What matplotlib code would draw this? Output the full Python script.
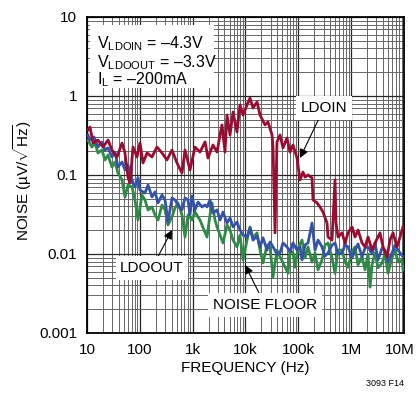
import matplotlib

matplotlib.use("Agg")
import matplotlib.pyplot as plt
from matplotlib.patches import Rectangle
from matplotlib.ticker import FixedLocator, LogLocator, NullFormatter
from matplotlib.transforms import ScaledTranslation

# LDOIN output noise (red)
ldoin_freq = [
    10.4, 11.4, 13, 16.1, 20.1, 25, 29.7, 37, 46, 52.4, 59.7, 65.2, 74.3, 88.4, 100.7,
    115, 137, 170, 211, 263, 327, 406, 505, 628, 716, 891, 1107, 1377, 1714, 1950,
    2427, 2891, 3296, 3592, 4093, 4467, 5093, 5808, 6905, 7870, 8975, 10690, 12170,
    13870, 16520, 18840, 23400, 26670, 31770, 33190, 36220, 39470, 44980, 51290,
    61090, 69660, 79300, 94400, 107600, 122700, 133900, 152500, 181600, 189700,
    225900, 257000, 293000, 349000, 364700, 434500, 494600, 516700, 563600, 671400,
    765600, 872900, 1038000, 1183000, 1349000, 1605000, 1829000, 2086000, 2483000,
    2831000, 3516000, 4009000, 4773000, 5433000, 6194000, 7380000, 8410000, 9570000,
]
ldoin_noise = [
    0.371, 0.405, 0.254, 0.277, 0.226, 0.277, 0.207, 0.169, 0.254, 0.19, 0.094, 0.079,
    0.226, 0.169, 0.254, 0.142, 0.19, 0.169, 0.226, 0.19, 0.155, 0.207, 0.142, 0.106,
    0.207, 0.116, 0.226, 0.195, 0.262, 0.164, 0.24, 0.195, 0.321, 0.43, 0.195, 0.574,
    0.321, 0.627, 0.35, 0.77, 0.574, 0.77, 0.943, 0.705, 0.84, 0.574, 0.43, 0.469,
    0.321, 0.226, 0.0185, 0.262, 0.321, 0.22, 0.294, 0.195, 0.24, 0.164, 0.0865,
    0.109, 0.094, 0.1, 0.092, 0.0483, 0.0443, 0.0394, 0.034, 0.0247, 0.0164, 0.015,
    0.0865, 0.0247, 0.0164, 0.0185, 0.0138, 0.0185, 0.022, 0.0164, 0.0201, 0.0138,
    0.0123, 0.0164, 0.0112, 0.0138, 0.0185, 0.0123, 0.0092, 0.015, 0.0185, 0.0123,
    0.0164, 0.022,
]

# LDOOUT output noise (blue)
ldoout_freq = [
    10.4, 11.4, 13.6, 16.1, 19.2, 21.9, 25, 29.7, 33.9, 38.6, 46, 52.4, 59.7, 71, 81,
    92.3, 100.7, 125, 143, 170, 194, 221, 263, 300, 341, 406, 463, 528, 628, 716, 816,
    891, 971, 1107, 1262, 1503, 1714, 1868, 2128, 2427, 2891, 3296, 3750, 4467, 5093,
    5808, 6905, 7870, 8975, 10690, 12170, 13870, 16520, 18840, 21480, 25530, 29090,
    33190, 39470, 44980, 51290, 61090, 69660, 79300, 94400, 107600, 117500, 133900,
    152500, 181600, 207000, 236000, 280500, 320000, 364700, 434500, 494600, 563600,
    671400, 765600, 872900, 1038000, 1183000, 1349000, 1605000, 1829000, 2086000,
    2483000, 2831000, 3223000, 3840000, 4373000, 4980000, 5930000, 6760000, 7710000,
    9570000,
]
ldoout_noise = [
    0.321, 0.277, 0.303, 0.226, 0.262, 0.207, 0.22, 0.169, 0.195, 0.126, 0.146, 0.116,
    0.134, 0.0865, 0.0705, 0.092, 0.0646, 0.0592, 0.0746, 0.0527, 0.061, 0.0443,
    0.0558, 0.0483, 0.0254, 0.0512, 0.0483, 0.0417, 0.0361, 0.0512, 0.0483, 0.0312,
    0.0542, 0.0361, 0.0455, 0.0394, 0.0417, 0.0394, 0.0483, 0.033, 0.0361, 0.0269,
    0.034, 0.0247, 0.0286, 0.022, 0.0254, 0.0201, 0.0174, 0.0164, 0.0213, 0.015,
    0.0169, 0.0123, 0.016, 0.0112, 0.0142, 0.0123, 0.01, 0.0103, 0.0138, 0.0123,
    0.0106, 0.0138, 0.0112, 0.0123, 0.0084, 0.013, 0.0138, 0.0247, 0.0112, 0.015,
    0.0123, 0.0094, 0.0103, 0.013, 0.0138, 0.01, 0.0103, 0.013, 0.0123, 0.0089,
    0.0112, 0.0134, 0.0092, 0.0119, 0.0123, 0.01, 0.0138, 0.0084, 0.0119, 0.0112,
    0.0079, 0.0103, 0.013, 0.0112, 0.0092,
]

# measurement noise floor (green)
floor_freq = [
    10.4, 12.4, 14.2, 16.1, 19.2, 21.9, 25, 29.7, 33.9, 38.6, 46, 52.4, 59.7, 71, 81,
    92.3, 110, 125, 143, 170, 194, 221, 263, 300, 341, 406, 463, 528, 628, 716, 816,
    971, 1107, 1262, 1377, 1640, 1868, 2128, 2321, 2649, 2891, 3296, 3750, 4467, 5093,
    5808, 6905, 7870, 8975, 10690, 12170, 13870, 16520, 18840, 21480, 25530, 29090,
    33190, 39470, 44980, 53580, 63800, 69660, 79300, 86500, 98600, 117500, 133900,
    152500, 181600, 207000, 236000, 280500, 320000, 364700, 434500, 494600, 563600,
    671400, 765600, 872900, 1038000, 1183000, 1349000, 1605000, 1829000, 2086000,
    2275000, 2483000, 2831000, 3223000, 3840000, 4373000, 4980000, 5930000, 6760000,
    7710000, 9170000, 9570000,
]
floor_noise = [
    0.277, 0.226, 0.254, 0.19, 0.207, 0.155, 0.179, 0.126, 0.146, 0.106, 0.0865,
    0.0527, 0.0746, 0.0705, 0.0483, 0.0269, 0.0558, 0.0483, 0.0361, 0.0394, 0.0312,
    0.0269, 0.0417, 0.0361, 0.0233, 0.0294, 0.0382, 0.0443, 0.0312, 0.0164, 0.0312,
    0.0269, 0.034, 0.0294, 0.0269, 0.0201, 0.0164, 0.0312, 0.0443, 0.0269, 0.022,
    0.0174, 0.0138, 0.0233, 0.0201, 0.015, 0.0123, 0.0174, 0.0084, 0.015, 0.022,
    0.016, 0.0185, 0.0112, 0.0077, 0.013, 0.0123, 0.0051, 0.0112, 0.0092, 0.0073,
    0.0057, 0.0112, 0.0103, 0.0068, 0.0119, 0.015, 0.0089, 0.0123, 0.0079, 0.0103,
    0.0063, 0.0084, 0.013, 0.0138, 0.0089, 0.0057, 0.0112, 0.0112, 0.0079, 0.0068,
    0.0106, 0.0123, 0.0073, 0.0092, 0.0063, 0.01, 0.0038, 0.0073, 0.0103, 0.0067,
    0.0077, 0.01, 0.0057, 0.0089, 0.0112, 0.0079, 0.0084, 0.0063,
]

x_ticks = [10, 100, 1e3, 1e4, 1e5, 1e6, 1e7]
x_tick_labels = ["10", "100", "1k", "10k", "100k", "1M", "10M"]
y_ticks = [0.001, 0.01, 0.1, 1, 10]
y_tick_labels = ["0.001", "0.01", "0.1", "1", "10"]

conditions = [
    r"V$_{\mathrm{LDOIN}}$ = –4.3V",
    r"V$_{\mathrm{LDOOUT}}$ = –3.3V",
    r"I$_{\mathrm{L}}$ = –200mA",
]

RED = "#9a0b30"
BLUE = "#3553a6"
GREEN = "#2f8a48"

plt.rcParams["font.family"] = ["Liberation Sans", "DejaVu Sans"]
plt.rcParams["mathtext.fontset"] = "custom"
plt.rcParams["mathtext.rm"] = "Liberation Sans"
plt.rcParams["mathtext.it"] = "Liberation Sans"
plt.rcParams["mathtext.default"] = "rm"


def label_with_arrow(ax, text, text_xy, tip_xy):
    ax.annotate(
        text,
        xy=tip_xy,
        xytext=text_xy,
        ha="center",
        va="center",
        fontsize=11,
        zorder=6,
        bbox=dict(boxstyle="square,pad=0.3", fc="white", ec="none"),
        arrowprops=dict(arrowstyle="-|>", color="black", lw=0.8, mutation_scale=13, shrinkA=0, shrinkB=0),
    )


def main():
    fig = plt.figure(figsize=(4.18, 3.93), dpi=100)
    ax = fig.add_axes([0.2081, 0.1527, 0.7584, 0.8041])

    ax.plot(floor_freq, floor_noise, color=GREEN, lw=2.0, zorder=3)
    ax.plot(ldoout_freq, ldoout_noise, color=BLUE, lw=2.0, zorder=3.5)
    ax.plot(ldoin_freq, ldoin_noise, color=RED, lw=2.0, zorder=4)

    ax.set_xscale("log")
    ax.set_yscale("log")
    ax.set_xlim(10, 1e7)
    ax.set_ylim(0.001, 10)

    ax.xaxis.set_major_locator(FixedLocator(x_ticks))
    ax.set_xticklabels(x_tick_labels)
    ax.yaxis.set_major_locator(FixedLocator(y_ticks))
    ax.set_yticklabels(y_tick_labels)
    for axis in (ax.xaxis, ax.yaxis):
        axis.set_minor_locator(LogLocator(base=10, subs=range(2, 10), numticks=100))
        axis.set_minor_formatter(NullFormatter())

    ax.tick_params(which="both", length=0, labelsize=11)
    ax.tick_params(axis="x", pad=7)
    ax.tick_params(axis="y", pad=7)

    # keep "10M" inside the canvas
    last = ax.get_xticklabels()[-1]
    last.set_transform(last.get_transform() + ScaledTranslation(-3 / 72, 0, fig.dpi_scale_trans))

    ax.grid(which="major", color="0.15", lw=0.9, zorder=1)
    ax.grid(which="minor", color="0.4", lw=0.7, zorder=1)
    ax.set_axisbelow(True)
    for spine in ax.spines.values():
        spine.set_linewidth(1.3)

    # white panel behind the test conditions
    ax.add_patch(Rectangle((0.0095, 0.775), 0.39, 0.2, transform=ax.transAxes,
                           fc="white", ec="none", zorder=5))
    for text, y in zip(conditions, [0.902, 0.842, 0.788]):
        ax.text(0.0315, y, text, transform=ax.transAxes, fontsize=11.5,
                va="baseline", ha="left", zorder=6)

    label_with_arrow(ax, "LDOIN", (306000, 0.705), (107600, 0.164))
    label_with_arrow(ax, "LDOOUT", (170, 0.00665), (406, 0.0201))
    label_with_arrow(ax, "NOISE FLOOR", (23400, 0.00226), (9800, 0.00727))

    fig.text(0.587, 0.0636, "FREQUENCY (Hz)", ha="center", va="center", fontsize=11)
    fig.text(0.055, 0.542, r"NOISE (µV/$\sqrt{\mathrm{Hz}}$)", ha="center", va="center",
             rotation=90, fontsize=11)
    fig.text(0.9665, 0.025, "3093 F14", ha="right", va="center", fontsize=6.5)

    fig.savefig("out.png", dpi=100)
    plt.close(fig)


if __name__ == "__main__":
    main()
